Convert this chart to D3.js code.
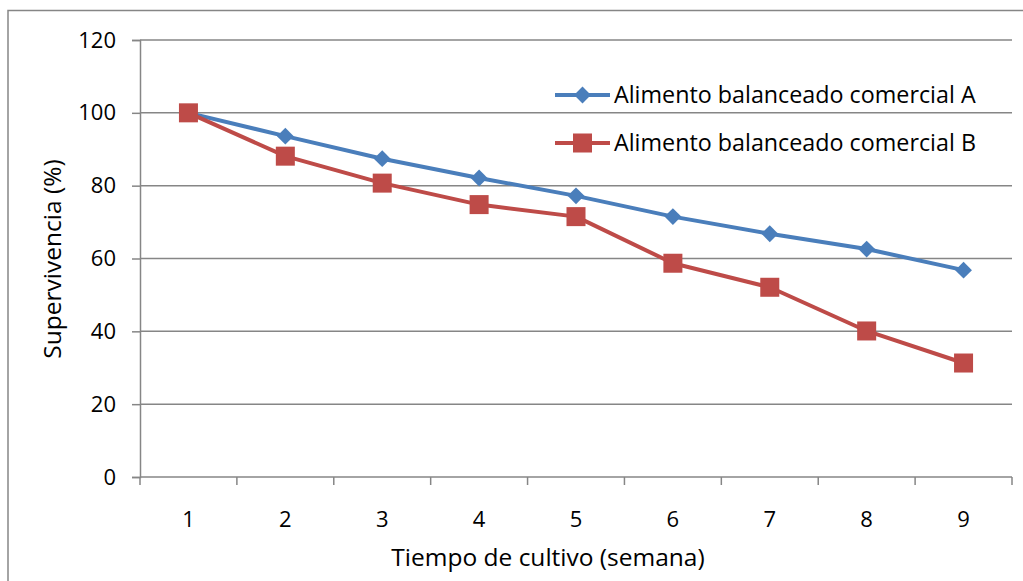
<!DOCTYPE html>
<html><head><meta charset="utf-8">
<script src="https://cdn.jsdelivr.net/npm/d3@7"></script>
<style>body{margin:0;background:#fff}svg{display:block}text{font-family:"Open Sans",sans-serif;fill:#000}</style>
</head><body>
<svg id="c" width="1023" height="581"></svg>
<script>
const weeks = ["1","2","3","4","5","6","7","8","9"];
const seriesA = [100, 93.6, 87.4, 82.1, 77.2, 71.5, 66.8, 62.6, 56.8];
const seriesB = [100, 88.1, 80.7, 74.8, 71.5, 58.7, 52.1, 40.1, 31.3];
const yTicks = [0, 20, 40, 60, 80, 100, 120];
const labelA = "Alimento balanceado comercial A";
const labelB = "Alimento balanceado comercial B";
const blue = "#4A7EBB", red = "#BE4B48", grid = "#868686";
const FONT = "Open Sans";

const svg = d3.select("#c");
svg.append("rect").attr("x",8).attr("y",10.5).attr("width",1030).attr("height",600)
  .attr("fill","none").attr("stroke","#868686").attr("stroke-width",1.5);

const L=140, R=1012, T=40, B=477;
const x = d3.scaleBand().domain(weeks).range([L,R]);
const y = d3.scaleLinear().domain([0,120]).range([B,T]);

svg.append("g").selectAll("line").data(yTicks.filter(d=>d>0)).join("line")
  .attr("x1",L).attr("x2",R).attr("y1",d=>y(d)).attr("y2",d=>y(d))
  .attr("stroke",grid).attr("stroke-width",1.5);

const ya = svg.append("g").attr("transform",`translate(${L},0)`)
  .call(d3.axisLeft(y).tickValues(yTicks).tickSize(8).tickPadding(16));
ya.attr("font-family",FONT).attr("font-size",22);
ya.select(".domain").attr("stroke",grid).attr("stroke-width",1.5);
ya.selectAll(".tick line").attr("stroke",grid).attr("stroke-width",1.5);
ya.selectAll("text").attr("fill","#000");

const xa = svg.append("g").attr("transform",`translate(0,${B})`)
  .call(d3.axisBottom(x).tickSize(0).tickPadding(34));
xa.attr("font-family",FONT).attr("font-size",22);
xa.select(".domain").attr("stroke",grid).attr("stroke-width",1.5).attr("d",`M${L},0H${R}`);
xa.selectAll("text").attr("fill","#000");
const bounds = d3.range(weeks.length+1).map(i=>L+i*x.bandwidth());
xa.append("g").selectAll("line").data(bounds).join("line")
  .attr("x1",d=>d).attr("x2",d=>d).attr("y1",0).attr("y2",8)
  .attr("stroke",grid).attr("stroke-width",1.5);

const cx = d=>x(d)+x.bandwidth()/2;
const line = d3.line().x((d,i)=>cx(weeks[i])).y(d=>y(d));

svg.append("path").datum(seriesA).attr("d",line).attr("fill","none").attr("stroke",blue).attr("stroke-width",4).attr("stroke-linejoin","round");
svg.append("path").datum(seriesB).attr("d",line).attr("fill","none").attr("stroke",red).attr("stroke-width",4).attr("stroke-linejoin","round");

const diamond = d3.symbol().type(d3.symbolDiamond2).size(180);
svg.append("g").selectAll("path").data(seriesA).join("path")
  .attr("d",diamond).attr("transform",(d,i)=>`translate(${cx(weeks[i])},${y(d)})`).attr("fill",blue);
svg.append("g").selectAll("rect").data(seriesB).join("rect")
  .attr("x",(d,i)=>cx(weeks[i])-9.5).attr("y",d=>y(d)-9.5).attr("width",19).attr("height",19).attr("fill",red);

const leg = [{label:labelA,color:blue,shape:"d",y:95},{label:labelB,color:red,shape:"s",y:143}];
const lg = svg.append("g");
leg.forEach(l=>{
  lg.append("line").attr("x1",555).attr("x2",610).attr("y1",l.y).attr("y2",l.y).attr("stroke",l.color).attr("stroke-width",4);
  if(l.shape==="d") lg.append("path").attr("d",diamond).attr("transform",`translate(582.5,${l.y})`).attr("fill",l.color);
  else lg.append("rect").attr("x",573).attr("y",l.y-9.5).attr("width",19).attr("height",19).attr("fill",l.color);
  lg.append("text").attr("x",614).attr("y",l.y).attr("dy","0.35em").attr("font-size",23.3).text(l.label);
});

svg.append("text").attr("x",548).attr("y",557).attr("dy","0.35em").attr("text-anchor","middle").attr("font-size",24.5).text("Tiempo de cultivo (semana)");
svg.append("text").attr("transform","translate(52,259) rotate(-90)").attr("dy","0.35em").attr("text-anchor","middle").attr("font-size",24.5).text("Supervivencia (%)");
</script>
</body></html>
